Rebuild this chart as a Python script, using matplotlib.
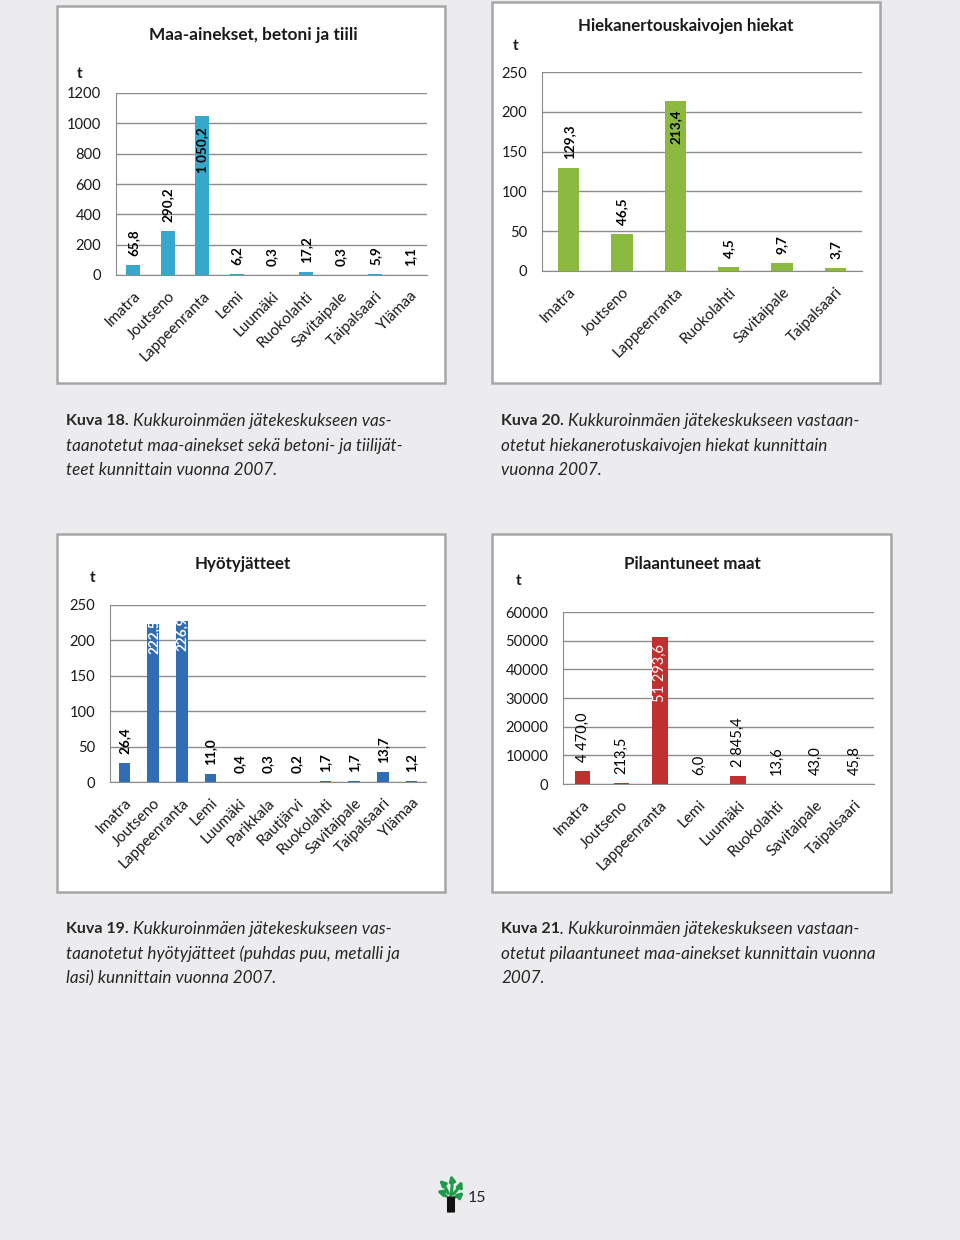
import numpy as np
import matplotlib
matplotlib.use("Agg")
from matplotlib import pyplot as plt
from matplotlib.patches import Rectangle, FancyArrowPatch

plt.rcParams['font.family'] = ['Lato', 'DejaVu Sans']

# Kuva 18
maa_cats = ['Imatra', 'Joutseno', 'Lappeenranta', 'Lemi', 'Luumäki', 'Ruokolahti',
            'Savitaipale', 'Taipalsaari', 'Ylämaa']
maa_vals = [65.8, 290.2, 1050.2, 6.2, 0.3, 17.2, 0.3, 5.9, 1.1]
maa_labels = ['65,8', '290,2', '1 050,2', '6,2', '0,3', '17,2', '0,3', '5,9', '1,1']

# Kuva 20
hiek_cats = ['Imatra', 'Joutseno', 'Lappeenranta', 'Ruokolahti', 'Savitaipale', 'Taipalsaari']
hiek_vals = [129.3, 46.5, 213.4, 4.5, 9.7, 3.7]
hiek_labels = ['129,3', '46,5', '213,4', '4,5', '9,7', '3,7']

# Kuva 19
hyo_cats = ['Imatra', 'Joutseno', 'Lappeenranta', 'Lemi', 'Luumäki', 'Parikkala',
            'Rautjärvi', 'Ruokolahti', 'Savitaipale', 'Taipalsaari', 'Ylämaa']
hyo_vals = [26.4, 222.5, 226.9, 11.0, 0.4, 0.3, 0.2, 1.7, 1.7, 13.7, 1.2]
hyo_labels = ['26,4', '222,5', '226,9', '11,0', '0,4', '0,3', '0,2', '1,7', '1,7', '13,7', '1,2']

# Kuva 21
pil_cats = ['Imatra', 'Joutseno', 'Lappeenranta', 'Lemi', 'Luumäki', 'Ruokolahti',
            'Savitaipale', 'Taipalsaari']
pil_vals = [4470.0, 213.5, 51293.6, 6.0, 2845.4, 13.6, 43.0, 45.8]
pil_labels = ['4 470,0', '213,5', '51 293,6', '6,0', '2 845,4', '13,6', '43,0', '45,8']

W, H = 960, 1240
fig = plt.figure(figsize=(9.6, 12.4), dpi=100)
fig.patch.set_facecolor('#ECECEE')

bg = fig.add_axes([0, 0, 1, 1])
bg.set_xlim(0, W)
bg.set_ylim(H, 0)
bg.axis('off')


def rect(x0, y0, x1, y1):
    return [x0 / W, 1 - y1 / H, (x1 - x0) / W, (y1 - y0) / H]


def panel(box, area, cats, vals, labels, ymax, step, color, title, title_xy, t_xy,
          inside=(), inside_color='black', bold=True, lab_size=9.7, width=0.4,
          inside_off=-10, title_size=12.0):
    bx0, by0, bx1, by1 = box
    bg.add_patch(Rectangle((bx0, by0), bx1 - bx0, by1 - by0, facecolor='white',
                           edgecolor='#A6A6A6', lw=1.8))
    bg.text(title_xy[0], title_xy[1], title, fontsize=title_size, fontweight='bold',
            ha='center', va='center', color='#1a1a1a')
    bg.text(t_xy[0], t_xy[1], 't', fontsize=11, fontweight='bold', ha='center',
            va='center', color='#1a1a1a')
    ax = fig.add_axes(rect(*area))
    ax.set_facecolor('none')
    x = np.arange(len(cats))
    ax.bar(x, vals, width=width, color=color, zorder=3)
    ax.set_xlim(-0.5, len(cats) - 0.5)
    ax.set_ylim(0, ymax)
    ax.set_yticks(np.arange(0, ymax + 1, step))
    ax.yaxis.grid(True, color='#8C8C8C', lw=1.0)
    ax.set_axisbelow(True)
    for s in ['top', 'right']:
        ax.spines[s].set_visible(False)
    ax.spines['left'].set_color('#8C8C8C')
    ax.spines['bottom'].set_color('#8C8C8C')
    ax.tick_params(length=0)
    ax.tick_params(axis='y', labelsize=10.6, pad=10.5, labelcolor='#1a1a1a')
    ax.set_xticks(x)
    ax.set_xticklabels(cats, rotation=45, ha='right', rotation_mode='anchor',
                       fontsize=11, color='#1a1a1a')
    ax.tick_params(axis='x', pad=10)
    fw = 'bold' if bold else 'normal'
    for i, (v, lab) in enumerate(zip(vals, labels)):
        if i in inside:
            ax.annotate(lab, (i, v), xytext=(0, inside_off), textcoords='offset pixels',
                        rotation=90, ha='center', va='top', fontsize=lab_size,
                        fontweight=fw, color=inside_color, zorder=4)
        else:
            ax.annotate(lab, (i, v), xytext=(0, 9), textcoords='offset pixels',
                        rotation=90, ha='center', va='bottom', fontsize=lab_size,
                        fontweight=fw, color='black', zorder=4)
    return ax


panel((57, 6, 445, 383), (116, 93, 427, 275), maa_cats, maa_vals, maa_labels,
      1200, 200, '#35A8CC', 'Maa-ainekset, betoni ja tiili', (253, 35), (80, 74),
      inside=(2,), inside_off=-12, title_size=12.4)
panel((492, 2, 880, 383), (542, 72, 862, 271), hiek_cats, hiek_vals, hiek_labels,
      250, 50, '#8CB940', 'Hiekanertouskaivojen hiekat', (686, 26), (516, 46),
      inside=(2,), inside_off=-8, title_size=12.2)
panel((57, 534, 445, 892), (110, 605, 426, 782), hyo_cats, hyo_vals, hyo_labels,
      250, 50, '#2F6DB5', 'Hyötyjätteet', (243, 564), (93, 578),
      inside=(1, 2), inside_color='white', inside_off=5, title_size=12.2)
panel((492, 534, 891, 892), (563, 612, 874, 784), pil_cats, pil_vals, pil_labels,
      60000, 10000, '#C0302E', 'Pilaantuneet maat', (692, 564), (519, 581),
      inside=(2,), inside_color='white', bold=False, lab_size=10.5, inside_off=-7,
      title_size=12.2)

# captions
captions = [
    (66, 421, 'Kuva 18.', ['Kukkuroinmäen jätekeskukseen vas-',
                           'taanotetut maa-ainekset sekä betoni- ja tiilijät-',
                           'teet kunnittain vuonna 2007.']),
    (501, 421, 'Kuva 20.', ['Kukkuroinmäen jätekeskukseen vastaan-',
                            'otetut hiekanerotuskaivojen hiekat kunnittain',
                            'vuonna 2007.']),
    (66, 929, 'Kuva 19.', ['Kukkuroinmäen jätekeskukseen vas-',
                           'taanotetut hyötyjätteet (puhdas puu, metalli ja',
                           'lasi) kunnittain vuonna 2007.']),
    (501, 929, 'Kuva 21', ['. Kukkuroinmäen jätekeskukseen vastaan-',
                           'otetut pilaantuneet maa-ainekset kunnittain vuonna',
                           '2007.']),
]
cap_col = '#262626'
for cx, cy, head, lines in captions:
    h = bg.text(cx, cy, head, fontsize=11.5, fontweight='bold', ha='left', va='center',
                color=cap_col)
    first = lines[0] if lines[0].startswith('.') else ' ' + lines[0]
    bg.annotate(first, xy=(1, 0.5), xycoords=h, ha='left', va='center', fontsize=12.3,
                style='italic', color=cap_col)
    for k, ln in enumerate(lines[1:]):
        bg.text(cx, cy + 24.5 * (k + 1), ln, fontsize=12.3, style='italic', ha='left',
                va='center', color=cap_col)

# logo and page number
green = '#1E9A4A'
for dx in (-2.5, 0, 2.5):
    bg.plot([450 + dx, 450 + dx], [1196, 1212], color='#111111', lw=2.2,
            solid_capstyle='butt')
arrows = [((450, 1198), (450, 1172)), ((449, 1196), (437, 1178)), ((451, 1196), (463, 1178)),
          ((448, 1198), (434, 1190)), ((452, 1198), (466, 1190))]
for a, b in arrows:
    bg.add_patch(FancyArrowPatch(a, b, arrowstyle='-|>', mutation_scale=8,
                                 color=green, lw=2.2, connectionstyle='arc3,rad=0.15'))
bg.text(468, 1198, '15', fontsize=11.5, ha='left', va='center', color='#262626')

fig.savefig('out.png', dpi=100, facecolor=fig.get_facecolor())
